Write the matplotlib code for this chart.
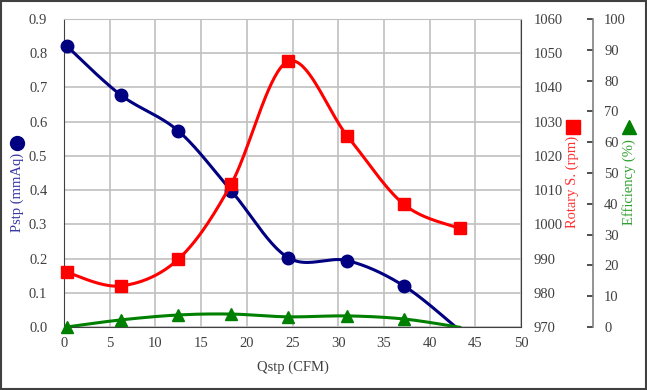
import numpy as np
import matplotlib
matplotlib.use("Agg")
import matplotlib.pyplot as plt
from matplotlib.lines import Line2D
from matplotlib.patches import Rectangle

qstp = [0.3, 6.2, 12.5, 18.3, 24.5, 31.0, 37.2, 43.3]
pstp = [0.821, 0.678, 0.573, 0.398, 0.203, 0.194, 0.120, -0.01]
rpm = [986.0, 982.0, 989.8, 1011.8, 1047.6, 1025.8, 1005.8, 998.8]
eff = [0.0, 2.3, 3.9, 4.2, 3.3, 3.6, 2.6, -0.1]

x_ticks = [0, 5, 10, 15, 20, 25, 30, 35, 40, 45, 50]

plt.rcParams['font.family'] = ['Liberation Serif', 'DejaVu Serif']
FS = 10.5

def smooth(x, y, n=40):
    x = np.asarray(x, float); y = np.asarray(y, float)
    P = np.column_stack([x, y])
    Pe = np.vstack([P[0], P, P[-1]])
    out = []
    t = np.linspace(0, 1, n)[:, None]
    for i in range(len(P) - 1):
        p0, p1, p2, p3 = Pe[i], Pe[i + 1], Pe[i + 2], Pe[i + 3]
        c1 = p1 + (p2 - p0) / 6.0
        c2 = p2 - (p3 - p1) / 6.0
        seg = ((1 - t) ** 3) * p1 + 3 * ((1 - t) ** 2) * t * c1 + 3 * (1 - t) * t ** 2 * c2 + t ** 3 * p2
        out.append(seg if i == 0 else seg[1:])
    s = np.vstack(out)
    return s[:, 0], s[:, 1]

fig = plt.figure(figsize=(6.47, 3.90), dpi=100)
ax = fig.add_axes([64/647, 1 - 327/390, (521-64)/647, (327-19)/390])
ax2 = ax.twinx()
ax3 = ax.twinx()

tick_col = '#404040'
navy = '#000080'
red = '#ff0000'
green = '#008000'
mk = list(range(len(qstp) - 1))

# Pstp
sx, sy = smooth(qstp, pstp)
ax.plot(sx, sy, color=navy, lw=2.2, zorder=3)
ax.plot(qstp, pstp, 'o', color=navy, ms=9, zorder=4, clip_on=False, markevery=mk)
ax.set_xlim(0, 50)
ax.set_ylim(0, 0.9)
ax.set_xticks(x_ticks)
ax.set_yticks(np.arange(0, 0.91, 0.1))
ax.set_yticklabels([f"{v:.1f}" for v in np.arange(0, 0.91, 0.1)])
ax.grid(True, color='#c0c0c0', lw=1.2)
ax.set_axisbelow(True)
ax.tick_params(axis='both', length=0, labelsize=FS, labelcolor=tick_col)
ax.tick_params(axis='y', pad=12)
ax.tick_params(axis='x', pad=7)
for s in ['left', 'bottom', 'right', 'top']:
    ax.spines[s].set_color('#404040')
ax.spines['top'].set_color('#c0c0c0')
ax.set_xlabel('Qstp (CFM)', fontsize=FS, color=tick_col, labelpad=8)

# Rotary speed
rx, ry = smooth(qstp, rpm)
ax2.plot(rx, ry, color=red, lw=2.2, zorder=3)
ax2.plot(qstp, rpm, 's', color=red, ms=9, zorder=4, clip_on=False)
ax2.set_ylim(970, 1060)
ax2.set_yticks(np.arange(970, 1061, 10))
ax2.tick_params(axis='y', length=0, labelsize=FS, labelcolor=tick_col, pad=9)
for s in ['left', 'bottom', 'right', 'top']:
    ax2.spines[s].set_visible(False)

# Efficiency
ex, ey = smooth(qstp, eff)
ax3.plot(ex, ey, color=green, lw=2.2, zorder=3)
ax3.plot(qstp, eff, '^', color=green, ms=8, zorder=4, clip_on=False, markevery=mk)
ax3.set_ylim(0, 100)
ax3.set_yticks(np.arange(0, 101, 10))
ax3.spines['right'].set_position(('axes', (593-64)/457))
for s in ['left', 'bottom', 'top']:
    ax3.spines[s].set_visible(False)
ax3.spines['right'].set_color('#808080')
ax3.spines['right'].set_linewidth(1.2)
ax3.tick_params(axis='y', direction='in', length=4, width=1.2, color='#303030',
                labelsize=FS, labelcolor=tick_col, pad=8)

# axis titles with marker symbols
fig.text(17/647, 1 - 192/390, 'Pstp (mmAq)', rotation=90, ha='center', va='center',
         fontsize=FS, color='#3535a5')
fig.add_artist(Line2D([17/647], [1 - 143/390], marker='o', color=navy, ms=10,
                      transform=fig.transFigure))
fig.text(572/647, 1 - 182/390, 'Rotary S. (rpm)', rotation=90, ha='center', va='center',
         fontsize=FS, color='#ff3030')
fig.add_artist(Line2D([573/647], [1 - 127/390], marker='s', color=red, ms=10,
                      transform=fig.transFigure))
fig.text(629/647, 1 - 182/390, 'Efficiency (%)', rotation=90, ha='center', va='center',
         fontsize=FS, color='#30a030')
fig.add_artist(Line2D([629/647], [1 - 127/390], marker='^', color=green, ms=10,
                      transform=fig.transFigure))

fig.add_artist(Rectangle((0.001, 0.002), 0.997, 0.995, transform=fig.transFigure,
                         fill=False, edgecolor='#404040', lw=1.5))

fig.savefig('out.png', dpi=100)
